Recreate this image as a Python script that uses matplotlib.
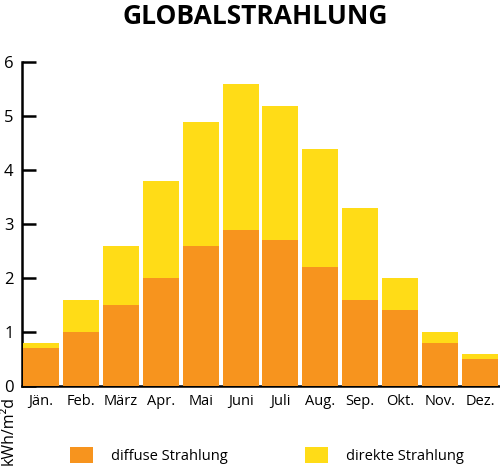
import matplotlib
matplotlib.use('Agg')
import matplotlib.pyplot as plt
import numpy as np

# Data
months = ['Jän.', 'Feb.', 'März', 'Apr.', 'Mai', 'Juni', 'Juli', 'Aug.', 'Sep.', 'Okt.', 'Nov.', 'Dez.']
diffuse = [0.7, 1.0, 1.5, 2.0, 2.6, 2.9, 2.7, 2.2, 1.6, 1.4, 0.8, 0.5]
total = [0.8, 1.6, 2.6, 3.8, 4.9, 5.6, 5.2, 4.4, 3.3, 2.0, 1.0, 0.6]
direct = [t - d for t, d in zip(total, diffuse)]

c_diff = '#F7941E'
c_dir = '#FFDC17'

plt.rcParams['font.family'] = ['Open Sans', 'DejaVu Sans']

fig = plt.figure(figsize=(5, 4.66), dpi=100)
ax = fig.add_axes([0.044, 0.172, 0.954, 0.694])

x = np.arange(len(months))
b1 = ax.bar(x, diffuse, width=0.9, color=c_diff, zorder=3, label='diffuse Strahlung')
b2 = ax.bar(x, direct, bottom=diffuse, width=0.9, color=c_dir, zorder=3, label='direkte Strahlung')

ax.set_xlim(-0.475, 11.475)
ax.set_ylim(0, 6)
ax.set_xticks(x)
ax.set_xticklabels(months, fontsize=10.5)
ax.set_yticks(range(7))
ax.tick_params(axis='x', length=0, pad=6)
ax.tick_params(axis='y', direction='in', length=10, width=1.8, labelsize=12, pad=6)

for s in ['top', 'right']:
    ax.spines[s].set_visible(False)
ax.spines['left'].set_linewidth(1.8)
ax.spines['bottom'].set_linewidth(1.8)

fig.text(0.51, 0.965, 'GLOBALSTRAHLUNG', ha='center', va='center',
         fontsize=19, fontweight='bold')
fig.text(0.017, 0.076, 'kWh/m²d', rotation=90, ha='center', va='center', fontsize=11.5)

fig.legend(handles=[b1, b2], loc='center left', bbox_to_anchor=(0.128, 0.022),
           ncol=2, frameon=False, fontsize=10.5, handlelength=1.6, handleheight=1.3,
           handletextpad=1.2, columnspacing=5.3, borderaxespad=0)

fig.savefig('out.png', dpi=100)
